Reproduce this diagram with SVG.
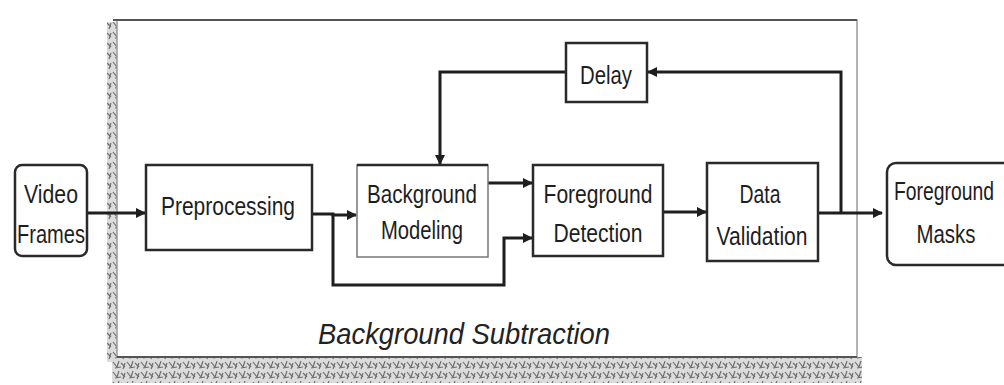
<svg xmlns="http://www.w3.org/2000/svg" width="1004" height="385" viewBox="0 0 1004 385">
<defs>
<style>
.box{fill:#fff;stroke:#2a2a2a;stroke-width:2.5}
.lbl{font-family:"Liberation Sans",Arial,sans-serif;font-size:26px;fill:#1e1e1e;text-anchor:middle}
.wire{fill:none;stroke:#1e1e1e;stroke-width:3}
</style>
<marker id="ah" viewBox="0 0 10 10" refX="9" refY="5" markerWidth="10" markerHeight="10" markerUnits="userSpaceOnUse" orient="auto">
<path d="M0,0 L10,5 L0,10 z" fill="#1e1e1e"/>
</marker>
<pattern id="noise" width="14" height="10" patternUnits="userSpaceOnUse">
<rect width="14" height="10" fill="#dcdcdc"/>
<path d="M1,2 l4,5 M7,1 l-2,6 M9,3 l4,4 M3,8 l6,-1 M11,9 l2,-6" stroke="#6e6e6e" stroke-width="1.2"/>
</pattern>
</defs>
<rect width="1004" height="385" fill="#fff"/>
<g id="frame">
<rect x="107" y="22" width="13" height="340" fill="url(#noise)"/>
<rect x="112" y="357" width="750" height="26" fill="url(#noise)"/>
<rect x="117" y="20" width="740" height="337" fill="#fff" stroke="#9a9a9a" stroke-width="1.5"/>
<line x1="113" y1="20" x2="857" y2="20" stroke="#555" stroke-width="2"/>
<line x1="117" y1="357" x2="857" y2="357" stroke="#555" stroke-width="2"/>
<text x="464" y="344" font-family="Liberation Sans,Arial,sans-serif" font-size="29" font-style="italic" fill="#222" text-anchor="middle" textLength="292" lengthAdjust="spacingAndGlyphs">Background Subtraction</text>
</g>
<g id="connectors">
<line class="wire" x1="88" y1="213" x2="145" y2="213" marker-end="url(#ah)"/>
<polyline class="wire" points="312,214 333,214 333,215 356,215" marker-end="url(#ah)"/>
<polyline class="wire" points="333,214 333,285 504,285 504,238 532,238" marker-end="url(#ah)"/>
<line class="wire" x1="488" y1="183" x2="532" y2="183" marker-end="url(#ah)"/>
<line class="wire" x1="663" y1="212" x2="706" y2="212" marker-end="url(#ah)"/>
<line class="wire" x1="818" y1="213" x2="882" y2="213" marker-end="url(#ah)"/>
<polyline class="wire" points="841,213 841,72 648,72" marker-end="url(#ah)"/>
<polyline class="wire" points="566,72 440,72 440,164" marker-end="url(#ah)"/>
</g>
<g id="video-frames">
<rect class="box" x="15" y="165" width="72" height="91" rx="7"/>
<text class="lbl" x="51" y="203" textLength="54" lengthAdjust="spacingAndGlyphs">Video</text>
<text class="lbl" x="51" y="243" textLength="68" lengthAdjust="spacingAndGlyphs">Frames</text>
</g>
<g id="preprocessing">
<rect class="box" x="146" y="165" width="166" height="85"/>
<text class="lbl" x="228" y="215" textLength="134" lengthAdjust="spacingAndGlyphs">Preprocessing</text>
</g>
<g id="background-modeling">
<rect class="box" x="357" y="165" width="131" height="92" style="stroke:#777;stroke-width:1.5"/>
<line x1="357" y1="165" x2="488" y2="165" stroke="#2a2a2a" stroke-width="2.5"/>
<text class="lbl" x="422" y="203" textLength="110" lengthAdjust="spacingAndGlyphs">Background</text>
<text class="lbl" x="422" y="239" textLength="82" lengthAdjust="spacingAndGlyphs">Modeling</text>
</g>
<g id="foreground-detection">
<rect class="box" x="533" y="165" width="130" height="91"/>
<text class="lbl" x="598" y="203" textLength="109" lengthAdjust="spacingAndGlyphs">Foreground</text>
<text class="lbl" x="598" y="242" textLength="89" lengthAdjust="spacingAndGlyphs">Detection</text>
</g>
<g id="data-validation">
<rect class="box" x="707" y="163" width="111" height="98"/>
<text class="lbl" x="760" y="203" textLength="41" lengthAdjust="spacingAndGlyphs">Data</text>
<text class="lbl" x="762" y="245" textLength="91" lengthAdjust="spacingAndGlyphs">Validation</text>
</g>
<g id="delay">
<rect class="box" x="566" y="43" width="81" height="59"/>
<text class="lbl" x="606" y="84" textLength="52" lengthAdjust="spacingAndGlyphs">Delay</text>
</g>
<g id="foreground-masks">
<rect class="box" x="887" y="163" width="130" height="102" rx="9"/>
<text class="lbl" x="944" y="200" textLength="100" lengthAdjust="spacingAndGlyphs">Foreground</text>
<text class="lbl" x="946" y="243" textLength="59" lengthAdjust="spacingAndGlyphs">Masks</text>
</g>
</svg>
